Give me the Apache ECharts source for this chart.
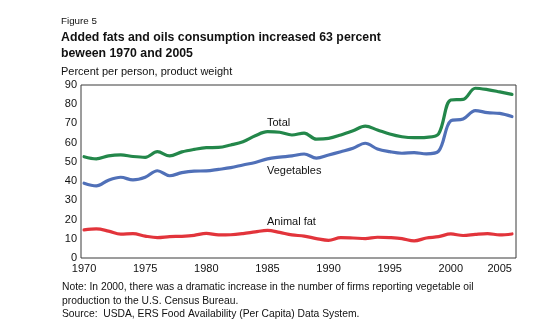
<!DOCTYPE html>
<html>
<head>
<meta charset="utf-8">
<style>
  html, body { margin: 0; padding: 0; background: #ffffff; }
  #chart { width: 535px; height: 328px; }
</style>
<script src="https://cdn.jsdelivr.net/npm/echarts@6/dist/echarts.min.js"></script>
</head>
<body>
<div id="chart"></div>
<script>
// Years covered by the series
var years = [1970, 1971, 1972, 1973, 1974, 1975, 1976, 1977, 1978, 1979,
             1980, 1981, 1982, 1983, 1984, 1985, 1986, 1987, 1988, 1989,
             1990, 1991, 1992, 1993, 1994, 1995, 1996, 1997, 1998, 1999,
             2000, 2001, 2002, 2003, 2004, 2005];

// Added fats and oils, product weight per person
var total = [52.7, 51.6, 53.1, 53.6, 52.8, 52.4, 55.3, 53.1, 55.2, 56.5,
             57.4, 57.5, 58.8, 60.5, 63.6, 65.7, 65.4, 64.0, 65.0, 61.8,
             62.2, 64.0, 66.2, 68.6, 66.6, 64.5, 63.1, 62.6, 62.8, 64.6,
             82.2, 82.5, 88.3, 87.6, 86.4, 85.1];

var vegetables = [38.9, 37.5, 40.5, 42.0, 40.6, 42.0, 45.4, 42.8, 44.4, 45.2,
                  45.3, 46.1, 47.0, 48.4, 49.7, 51.6, 52.5, 53.1, 54.1, 52.0,
                  53.6, 55.3, 57.1, 59.7, 56.7, 55.3, 54.5, 54.8, 54.2, 55.6,
                  71.4, 72.3, 76.7, 75.6, 75.2, 73.6];

var animalFat = [14.6, 15.1, 14.0, 12.4, 12.7, 11.4, 10.6, 11.1, 11.3, 11.8,
                 12.8, 12.0, 12.1, 12.7, 13.6, 14.4, 13.3, 12.0, 11.4, 10.1,
                 9.2, 10.6, 10.4, 10.1, 10.8, 10.6, 10.1, 8.9, 10.4, 11.1,
                 12.5, 11.7, 12.3, 12.7, 12.0, 12.5];

// Axis tick labels
var xTickYears = [1970, 1975, 1980, 1985, 1990, 1995, 2000, 2005];
var yTicks = [0, 10, 20, 30, 40, 50, 60, 70, 80, 90];

var FONT = '"Liberation Sans", Arial, Helvetica, sans-serif';

function pairs(values) {
  return years.map(function (y, i) { return [y, values[i]]; });
}

function lineSeries(name, values, color) {
  return {
    name: name,
    type: 'line',
    data: pairs(values),
    smooth: 0.35,
    showSymbol: false,
    lineStyle: { color: color, width: 3.2, cap: 'round', join: 'round' },
    emphasis: { disabled: true },
    z: 3
  };
}

var chart = echarts.init(document.getElementById('chart'), null, { renderer: 'canvas' });

chart.setOption({
  backgroundColor: '#ffffff',
  animation: false,
  textStyle: { fontFamily: FONT },
  grid: {
    left: 81, right: 19, top: 85, bottom: 70,
    show: true, borderColor: '#3a3a3a', borderWidth: 1,
    containLabel: false
  },
  xAxis: {
    type: 'value',
    min: 1969.75,
    max: 2005.33,
    axisLine: { show: false },
    axisTick: { show: false },
    splitLine: { show: false },
    axisLabel: {
      customValues: xTickYears,
      color: '#111',
      fontSize: 11,
      fontFamily: FONT,
      margin: 5,
      alignMaxLabel: 'right',
      formatter: function (v) { return String(Math.round(v)); }
    }
  },
  yAxis: {
    type: 'value',
    min: yTicks[0],
    max: yTicks[yTicks.length - 1],
    interval: 10,
    axisLine: { show: false },
    axisTick: { show: false },
    splitLine: { show: false },
    axisLabel: {
      color: '#111',
      fontSize: 11,
      fontFamily: FONT,
      margin: 4
    }
  },
  series: [
    lineSeries('Total', total, '#23874a'),
    lineSeries('Vegetables', vegetables, '#5070b8'),
    lineSeries('Animal fat', animalFat, '#e2343b')
  ],
  graphic: [
    { type: 'text', left: 61, top: 16,
      style: { text: 'Figure 5', font: '9.8px ' + FONT, fill: '#111' } },
    { type: 'text', left: 61, top: 30,
      style: { text: 'Added fats and oils consumption increased 63 percent\nbeween 1970 and 2005',
               font: 'bold 12.3px ' + FONT, fill: '#111', lineHeight: 16 } },
    { type: 'text', left: 61, top: 66,
      style: { text: 'Percent per person, product weight', font: '11px ' + FONT, fill: '#111' } },
    { type: 'text', left: 267, top: 117,
      style: { text: 'Total', font: '11px ' + FONT, fill: '#111' } },
    { type: 'text', left: 267, top: 165,
      style: { text: 'Vegetables', font: '11px ' + FONT, fill: '#111' } },
    { type: 'text', left: 267, top: 216,
      style: { text: 'Animal fat', font: '11px ' + FONT, fill: '#111' } },
    { type: 'text', left: 62, top: 281,
      style: { text: 'Note: In 2000, there was a dramatic increase in the number of firms reporting vegetable oil\nproduction to the U.S. Census Bureau.\nSource:  USDA, ERS Food Availability (Per Capita) Data System.',
               font: '10.3px ' + FONT, fill: '#111', lineHeight: 13.3 } }
  ]
});
</script>
</body>
</html>
